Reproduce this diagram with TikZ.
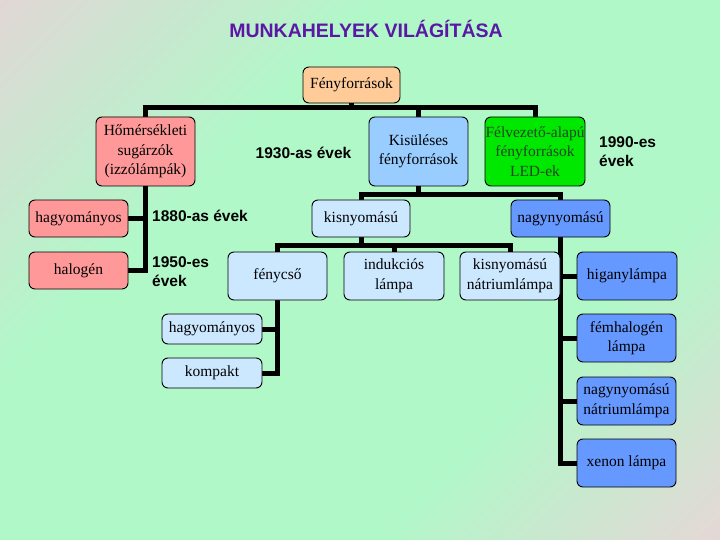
\documentclass[tikz,border=0pt]{standalone}
\usepackage{fontspec}
\setmainfont{Liberation Serif}
\newfontfamily\boxfont{Liberation Serif}
\newfontfamily\lblfont{Liberation Sans}
\usetikzlibrary{calc}
\definecolor{bgA}{HTML}{E2D6D6}
\definecolor{bgB}{HTML}{E4D8D6}
\definecolor{bgG}{HTML}{B0F8C8}
\definecolor{cpeach}{HTML}{FFCC99}
\definecolor{cpink}{HTML}{FF9999}
\definecolor{cblue}{HTML}{99CCFF}
\definecolor{cgreen}{HTML}{00E800}
\definecolor{cgtext}{HTML}{224422}
\definecolor{clight}{HTML}{CCE8FF}
\definecolor{cmid}{HTML}{6699FF}
\definecolor{ctitle}{HTML}{5B18A6}
\pgfdeclareverticalshading{bgsh}{100bp}{color(0bp)=(bgB); color(15bp)=(bgB); color(34bp)=(bgG); color(64bp)=(bgG); color(86bp)=(bgA); color(100bp)=(bgA)}
\pgfdeclarelayer{bglayer}
\pgfdeclarelayer{linelayer}
\pgfsetlayers{bglayer,linelayer,main}
\begin{document}
\begin{tikzpicture}[x=1pt,y=-1pt,
  box/.style={draw=black, line width=0.9pt, rounded corners=6pt, inner sep=0pt, align=center,
    font={\boxfont\fontsize{15.5}{19.5}\selectfont}, text=black},
  sz/.style 2 args={minimum width=#1pt, minimum height=#2pt},
  conn/.style={line width=5pt, line join=miter, draw=black},
  lbl/.style={font={\lblfont\bfseries\fontsize{15.5}{19}\selectfont}, text=black, inner sep=0pt, align=left}]
\useasboundingbox (0,0) rectangle (720,540);
\begin{pgfonlayer}{bglayer}
\shade[shading=bgsh, shading angle=45] (0,0) rectangle (720,540);
\end{pgfonlayer}

\node[font={\lblfont\bfseries\fontsize{19.5}{22}\selectfont}, text=ctitle] (title) at (366,29) {MUNKAHELYEK VILÁGÍTÁSA};

\node[box, fill=cpeach, sz={97}{36}] (fenyf) at (351.5,85) {Fényforrások};
\node[box, fill=cpink, sz={99}{69}] (homer) at (145.5,151.5) {Hőmérsékleti\\sugárzók\\(izzólámpák)};
\node[box, fill=cblue, sz={99}{69}] (kisul) at (418.5,151.5) {Kisüléses\\fényforrások};
\node[box, fill=cgreen, text=cgtext, sz={100}{69}] (felvez) at (535,151.5) {Félvezető-alapú\\fényforrások\\LED-ek};
\node[box, fill=cpink, sz={99}{37}] (hagy1) at (78.5,218.5) {hagyományos};
\node[box, fill=cpink, sz={99}{37}] (halog) at (78.5,270.5) {halogén};
\node[box, fill=clight, sz={98}{37}] (kisny) at (361,218.5) {kisnyomású};
\node[box, fill=cmid, sz={99}{37}] (nagyny) at (560.5,218.5) {nagynyomású};
\node[box, fill=clight, sz={99}{48}] (fenycso) at (277.5,276) {fénycső};
\node[box, fill=clight, sz={100}{48}] (indukc) at (394,276) {indukciós\\lámpa};
\node[box, fill=clight, sz={100}{48}] (kisnat) at (510,276) {kisnyomású\\nátriumlámpa};
\node[box, fill=cmid, sz={100}{48}] (higany) at (627,276) {higanylámpa};
\node[box, fill=clight, sz={100}{30}] (hagy2) at (212,329) {hagyományos};
\node[box, fill=clight, sz={100}{30}] (kompakt) at (212,373) {kompakt};
\node[box, fill=cmid, sz={99}{48}] (femhal) at (626.5,338) {fémhalogén\\lámpa};
\node[box, fill=cmid, sz={99}{48}] (nagynat) at (626.5,401) {nagynyomású\\nátriumlámpa};
\node[box, fill=cmid, sz={99}{48}] (xenon) at (626.5,463) {xenon lámpa};

\node[lbl] (l1930) at (303.5,153) {1930-as évek};
\node[lbl, anchor=west] (l1880) at (152,216) {1880-as évek};
\node[lbl, anchor=west] (l1950) at (152,271.5) {1950-es\\évek};
\node[lbl, anchor=west] (l1990) at (599,152) {1990-es\\évek};

\begin{pgfonlayer}{linelayer}
\coordinate (b1) at (351.5,108);
\draw[conn] (fenyf.south) -- (b1);
\draw[conn] (homer.north) -- (homer.north |- b1) -- (felvez.north |- b1) -- (felvez.north);
\draw[conn] (kisul.north) -- (kisul.north |- b1);
\draw[conn] (homer.south) |- (halog.east);
\draw[conn] (hagy1.east) -- (hagy1.east -| homer.south);
\coordinate (b2) at (418.5,195);
\draw[conn] (kisul.south) -- (b2);
\draw[conn] (kisny.north) -- (kisny.north |- b2) -- (nagyny.north |- b2) -- (nagyny.north);
\coordinate (b3) at (361,245);
\draw[conn] (kisny.south) -- (b3);
\draw[conn] (fenycso.north) -- (fenycso.north |- b3) -- (kisnat.north |- b3) -- (kisnat.north);
\draw[conn] (indukc.north) -- (indukc.north |- b3);
\draw[conn] (fenycso.south) |- (kompakt.east);
\draw[conn] (hagy2.east) -- (hagy2.east -| fenycso.south);
\draw[conn] (nagyny.south) |- (xenon.west);
\draw[conn] (higany.west) -- (higany.west -| nagyny.south);
\draw[conn] (femhal.west) -- (femhal.west -| nagyny.south);
\draw[conn] (nagynat.west) -- (nagynat.west -| nagyny.south);
\end{pgfonlayer}
\end{tikzpicture}
\end{document}
